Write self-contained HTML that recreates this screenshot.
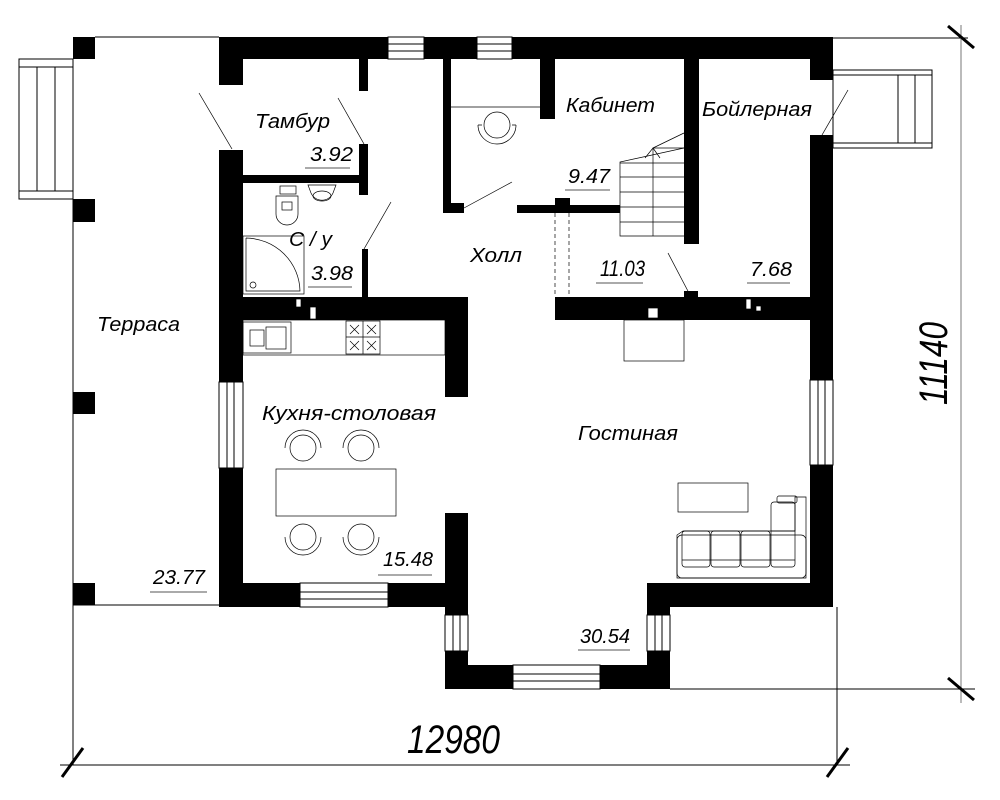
<!DOCTYPE html>
<html><head><meta charset="utf-8"><style>
html,body{margin:0;padding:0;background:#fff;}
svg{display:block}
text{font-family:"Liberation Sans",sans-serif;font-style:italic;fill:#000;}
</style></head><body>
<svg width="1000" height="800" viewBox="0 0 1000 800" xmlns="http://www.w3.org/2000/svg">
<g fill="#000" stroke="none">
<rect x="73" y="37" width="22" height="22"/>
<rect x="73" y="199" width="22" height="23"/>
<rect x="73" y="392" width="22" height="22"/>
<rect x="73" y="583" width="22" height="22"/>
<rect x="219" y="37" width="169" height="22"/>
<rect x="424" y="37" width="53" height="22"/>
<rect x="512" y="37" width="321" height="22"/>
<rect x="219" y="37" width="24" height="48"/>
<rect x="219" y="150" width="24" height="232"/>
<rect x="219" y="468" width="24" height="137"/>
<rect x="359" y="59" width="9" height="32"/>
<rect x="359" y="144" width="9" height="51"/>
<rect x="243" y="175" width="125" height="8"/>
<rect x="362" y="249" width="6" height="50"/>
<rect x="219" y="297" width="249" height="23"/>
<rect x="445" y="297" width="23" height="100"/>
<rect x="445" y="513" width="23" height="102"/>
<rect x="445" y="651" width="23" height="38"/>
<rect x="219" y="583" width="81" height="24"/>
<rect x="388" y="583" width="80" height="24"/>
<rect x="445" y="665" width="68" height="24"/>
<rect x="600" y="665" width="70" height="24"/>
<rect x="647" y="583" width="23" height="32"/>
<rect x="647" y="651" width="23" height="38"/>
<rect x="647" y="583" width="186" height="24"/>
<rect x="810" y="37" width="23" height="43"/>
<rect x="810" y="135" width="23" height="245"/>
<rect x="810" y="465" width="23" height="142"/>
<rect x="443" y="59" width="8" height="154"/>
<rect x="443" y="203" width="21" height="10"/>
<rect x="540" y="59" width="15" height="60"/>
<rect x="517" y="205" width="103" height="8"/>
<rect x="555" y="198" width="15" height="15"/>
<rect x="684" y="59" width="15" height="185"/>
<rect x="555" y="297" width="278" height="23"/>
<rect x="684" y="291" width="14" height="6"/>
</g>
<g fill="#fff" stroke="#000" stroke-width="0.7">
<rect x="296" y="299" width="5" height="8"/><rect x="310" y="307" width="6" height="12"/>
<rect x="648" y="308" width="10" height="10"/>
<rect x="746" y="299" width="5" height="10"/><rect x="756" y="306" width="5" height="5"/>
</g>
<g fill="#fff" stroke="#000" stroke-width="1">
<rect x="388" y="37" width="36" height="22"/>
<rect x="477" y="37" width="35" height="22"/>
<rect x="219" y="382" width="24" height="86"/>
<rect x="300" y="583" width="88" height="24"/>
<rect x="445" y="615" width="23" height="36"/>
<rect x="647" y="615" width="23" height="36"/>
<rect x="513" y="665" width="87" height="24"/>
<rect x="810" y="380" width="23" height="85"/>
</g>
<g fill="none" stroke="#000" stroke-width="1">
<line x1="388" y1="44" x2="424" y2="44"/><line x1="388" y1="51" x2="424" y2="51"/>
<line x1="477" y1="44" x2="512" y2="44"/><line x1="477" y1="51" x2="512" y2="51"/>
<line x1="227" y1="382" x2="227" y2="468"/><line x1="234" y1="382" x2="234" y2="468"/>
<line x1="300" y1="592" x2="388" y2="592"/><line x1="300" y1="599" x2="388" y2="599"/>
<line x1="453" y1="615" x2="453" y2="651"/><line x1="460" y1="615" x2="460" y2="651"/>
<line x1="655" y1="615" x2="655" y2="651"/><line x1="662" y1="615" x2="662" y2="651"/>
<line x1="513" y1="674" x2="600" y2="674"/><line x1="513" y1="681" x2="600" y2="681"/>
<line x1="818" y1="380" x2="818" y2="465"/><line x1="825" y1="380" x2="825" y2="465"/>
<line x1="73" y1="59" x2="73" y2="765"/>
<line x1="95" y1="37" x2="219" y2="37"/>
<line x1="73" y1="605" x2="219" y2="605"/>
<rect x="19" y="59" width="54" height="140"/>
<line x1="19" y1="67" x2="73" y2="67"/><line x1="19" y1="191" x2="73" y2="191"/>
<line x1="37" y1="67" x2="37" y2="191"/><line x1="55" y1="67" x2="55" y2="191"/>
<rect x="833" y="70" width="99" height="78"/>
<line x1="833" y1="75" x2="932" y2="75"/><line x1="833" y1="143" x2="932" y2="143"/>
<line x1="898" y1="75" x2="898" y2="143"/><line x1="915" y1="75" x2="915" y2="143"/>
<line x1="833" y1="38" x2="968" y2="38"/>
<line x1="670" y1="689" x2="975" y2="689"/>
<line x1="961" y1="25" x2="961" y2="703" stroke="#777"/>
<line x1="837" y1="607" x2="837" y2="765"/>
<line x1="60" y1="765" x2="850" y2="765"/>
</g>
<g stroke="#000" stroke-width="3">
<line x1="62" y1="777" x2="83" y2="748"/><line x1="827" y1="777" x2="848" y2="748"/>
<line x1="948" y1="26" x2="974" y2="48"/><line x1="948" y1="678" x2="974" y2="700"/>
</g>
<g stroke="#000" stroke-width="0.7" fill="none">
<line x1="232" y1="149" x2="199" y2="93"/>
<line x1="364" y1="144" x2="338" y2="98"/>
<line x1="364" y1="249" x2="391" y2="202"/>
<line x1="464" y1="208" x2="512" y2="182"/>
<line x1="690" y1="295" x2="668" y2="253"/>
<line x1="822" y1="135" x2="848" y2="90"/>
<line x1="555" y1="213" x2="555" y2="297" stroke-dasharray="4,3"/>
<line x1="569" y1="213" x2="569" y2="297" stroke-dasharray="4,3"/>
<polyline points="684,148 620,162 620,236 684,236"/>
<line x1="653" y1="148" x2="684" y2="148"/>
<line x1="620" y1="163" x2="684" y2="163"/><line x1="620" y1="177" x2="684" y2="177"/>
<line x1="620" y1="192" x2="684" y2="192"/><line x1="620" y1="207" x2="684" y2="207"/>
<line x1="620" y1="222" x2="684" y2="222"/>
<line x1="653" y1="148" x2="653" y2="236"/>
<line x1="684" y1="133" x2="653" y2="148"/>
<polyline points="645,158 653,148 660,158"/>
<line x1="451" y1="107" x2="540" y2="107"/>
<circle cx="497" cy="125" r="13"/>
<path d="M478,125 A19,19 0 0 0 516,125"/><path d="M478,125 L482,125 M512,125 L516,125"/>
<rect x="243" y="236" width="61" height="58"/>
<path d="M246,238 L246,291 L300,291 A55,54 0 0 0 246,238" />
<circle cx="253" cy="285" r="3"/>
<rect x="280" y="186" width="16" height="8"/>
<path d="M276,196 h22 v18 a11,11 0 0 1 -22,0 z"/>
<rect x="282" y="202" width="10" height="8"/>
<path d="M308,185 h28 l-3,8 a12,12 0 0 1 -22,0 z"/>
<ellipse cx="322" cy="196" rx="9" ry="5"/>
<rect x="243" y="320" width="202" height="35"/>
<rect x="243" y="322" width="48" height="31"/>
<rect x="250" y="330" width="14" height="16"/><rect x="266" y="327" width="20" height="22"/>
<rect x="346" y="321" width="34" height="33"/>
<line x1="363" y1="321" x2="363" y2="354"/><line x1="346" y1="337" x2="380" y2="337"/>
<path d="M350,325 l9,9 m0,-9 l-9,9 M367,325 l9,9 m0,-9 l-9,9 M350,341 l9,9 m0,-9 l-9,9 M367,341 l9,9 m0,-9 l-9,9"/>
<rect x="276" y="469" width="120" height="47"/>
<circle cx="303" cy="448" r="13"/><circle cx="361" cy="448" r="13"/>
<circle cx="303" cy="537" r="13"/><circle cx="361" cy="537" r="13"/>
<path d="M285,448 A18,18 0 0 1 321,448 M343,448 A18,18 0 0 1 379,448"/>
<path d="M285,537 A18,18 0 0 0 321,537 M343,537 A18,18 0 0 0 379,537"/>
<rect x="624" y="320" width="60" height="41"/>
<rect x="678" y="483" width="70" height="29"/>
<path d="M683,531 h112 v-34 h11 v81 h-129 v-43 z"/>
<rect x="677" y="535" width="129" height="43" rx="5"/>
<rect x="682" y="531" width="28" height="36" rx="3"/>
<rect x="711" y="531" width="29" height="36" rx="3"/>
<rect x="741" y="531" width="29" height="36" rx="3"/>
<rect x="771" y="502" width="24" height="65" rx="3"/>
<line x1="682" y1="560" x2="795" y2="560"/>
<line x1="771" y1="531" x2="795" y2="531"/>
<rect x="777" y="496" width="20" height="7" rx="2"/>
</g>
<g stroke="#555" stroke-width="1">
<line x1="305" y1="168" x2="350" y2="168"/>
<line x1="308" y1="287" x2="352" y2="287"/>
<line x1="565" y1="190" x2="610" y2="190"/>
<line x1="596" y1="283" x2="643" y2="283"/>
<line x1="747" y1="283" x2="790" y2="283"/>
<line x1="150" y1="592" x2="207" y2="592"/>
<line x1="378" y1="575" x2="432" y2="575"/>
<line x1="578" y1="650" x2="630" y2="650"/>
</g>
<g font-size="20">
<text x="255" y="128" textLength="75" lengthAdjust="spacingAndGlyphs">Тамбур</text>
<text x="310" y="161" textLength="43" lengthAdjust="spacingAndGlyphs">3.92</text>
<text x="289" y="246" textLength="43" lengthAdjust="spacingAndGlyphs">С / у</text>
<text x="311" y="280" textLength="42" lengthAdjust="spacingAndGlyphs">3.98</text>
<text x="566" y="112" textLength="89" lengthAdjust="spacingAndGlyphs">Кабинет</text>
<text x="568" y="183" textLength="42" lengthAdjust="spacingAndGlyphs">9.47</text>
<text x="702" y="116" textLength="110" lengthAdjust="spacingAndGlyphs">Бойлерная</text>
<text x="470" y="262" textLength="52" lengthAdjust="spacingAndGlyphs">Холл</text>
<text x="600" y="276" font-size="22" textLength="45" lengthAdjust="spacingAndGlyphs">11.03</text>
<text x="750" y="276" textLength="42" lengthAdjust="spacingAndGlyphs">7.68</text>
<text x="97" y="331" textLength="83" lengthAdjust="spacingAndGlyphs">Терраса</text>
<text x="262" y="420" textLength="174" lengthAdjust="spacingAndGlyphs">Кухня-столовая</text>
<text x="578" y="440" textLength="100" lengthAdjust="spacingAndGlyphs">Гостиная</text>
<text x="153" y="584" textLength="52" lengthAdjust="spacingAndGlyphs">23.77</text>
<text x="383" y="566" textLength="50" lengthAdjust="spacingAndGlyphs">15.48</text>
<text x="580" y="643" textLength="50" lengthAdjust="spacingAndGlyphs">30.54</text>
</g>
<text x="407" y="753" font-size="40" textLength="93" lengthAdjust="spacingAndGlyphs">12980</text>
<text x="0" y="0" font-size="40" textLength="83" lengthAdjust="spacingAndGlyphs" transform="translate(947,405) rotate(-90)">11140</text>
</svg>
</body></html>
